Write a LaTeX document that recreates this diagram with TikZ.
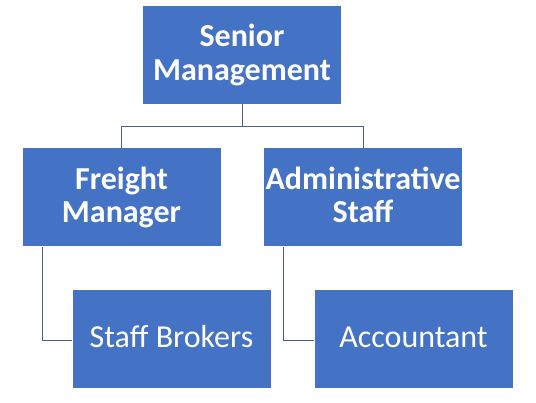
\documentclass[tikz,border=0pt]{standalone}
\usepackage{fontspec}
\setmainfont{Carlito}
\newcommand{\twoline}[2]{\raisebox{8pt}[0pt][0pt]{\begin{tabular}[t]{@{}c@{}}#1\\#2\end{tabular}}}
\newcommand{\oneline}[1]{\raisebox{-7.7pt}[0pt][0pt]{#1}}
\begin{document}
\begin{tikzpicture}[x=1pt,y=-1pt,
  box/.style={rectangle, fill=boxblue, draw=none, minimum width=198pt, minimum height=98pt, inner sep=0pt, text=white, font=\fontsize{32}{33.5}\selectfont\bfseries},
  lowbox/.style={box, font=\fontsize{32}{33.5}\selectfont},
  conn/.style={draw=linecol, line width=1pt}]
\definecolor{boxblue}{HTML}{4472C4}
\definecolor{linecol}{HTML}{4A5E8A}
\useasboundingbox (0,0) rectangle (536,403);
\node[box] (sm) at (242,55) {\twoline{Senior}{Management}};
\node[box] (fm) at (121.5,197.5) {\twoline{Freight}{Manager}};
\node[box] (as) at (363,197.5) {\twoline{Administrative}{Staff}};
\node[lowbox] (sb) at (171.5,339.5) {\oneline{Staff Brokers}};
\node[lowbox] (ac) at (413.5,339.5) {\oneline{Accountant}};
\draw[conn] (sm.south) -- ++(0,22) -| (fm.north);
\draw[conn] (sm.south) -- ++(0,22) -| (as.north);
\draw[conn] ([xshift=20pt]fm.south west) |- ([yshift=-1.5pt]sb.west);
\draw[conn] ([xshift=20pt]as.south west) |- ([yshift=-1.5pt]ac.west);
\end{tikzpicture}
\end{document}
